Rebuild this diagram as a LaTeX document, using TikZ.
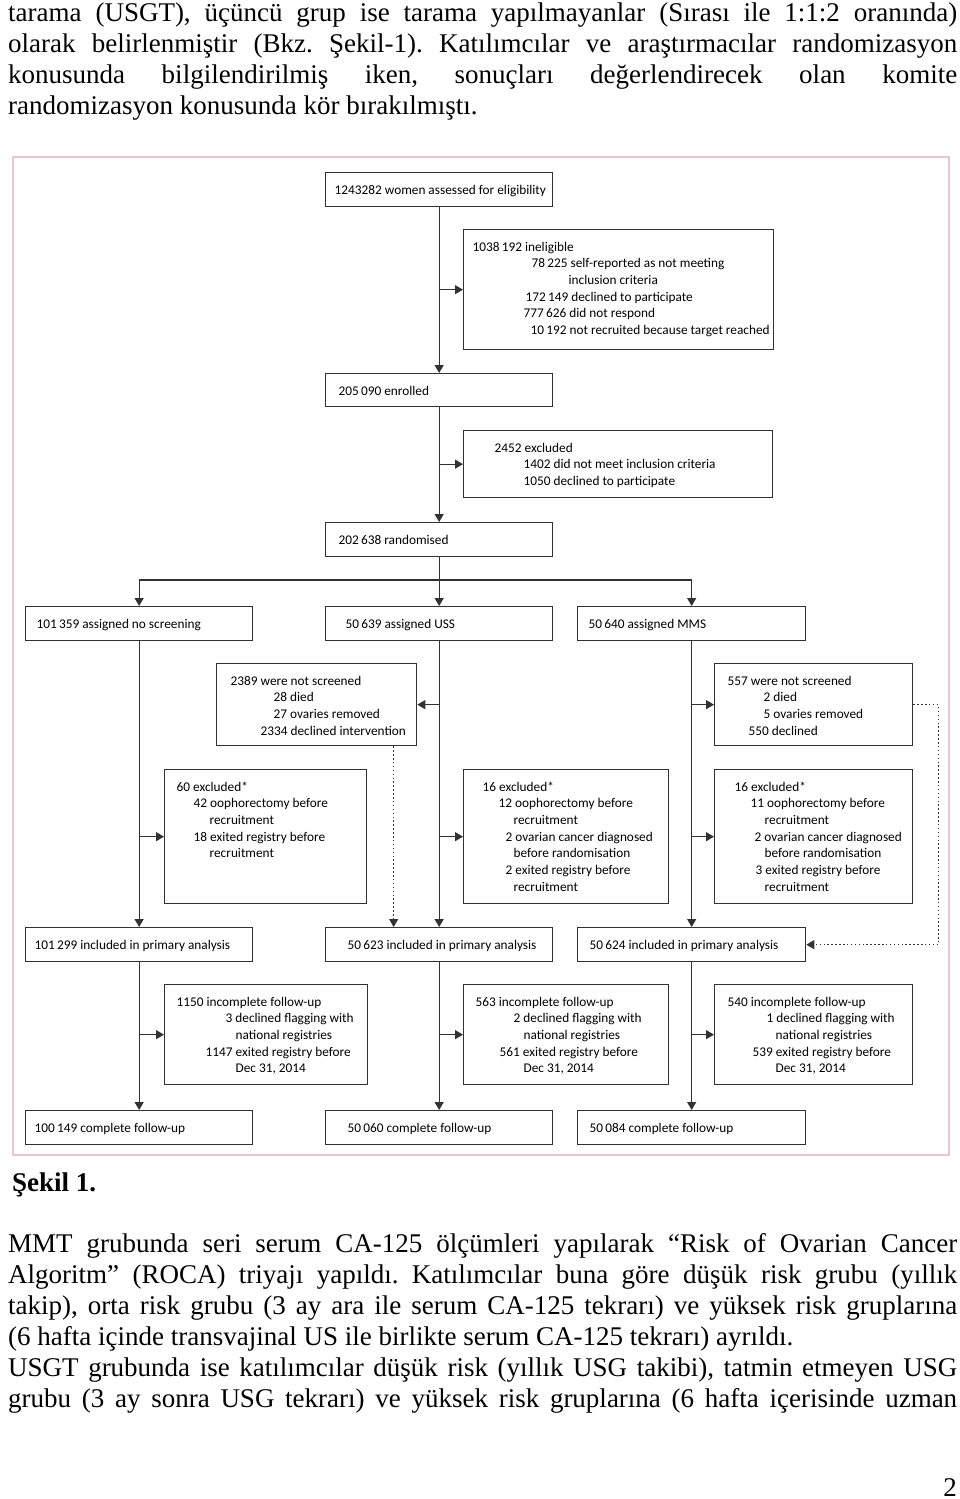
\documentclass[tikz,border=0pt]{standalone}
\usepackage{fontspec}
\setmainfont{Liberation Serif}
\newfontfamily\figfont{Carlito}
\usetikzlibrary{arrows.meta}
\frenchspacing
\definecolor{framepink}{RGB}{232,198,206}
\definecolor{linegray}{RGB}{50,50,50}
\tikzstyle{box} = [draw=linegray, line width=1.3pt, inner sep=0pt, anchor=north west, font=\figfont\fontsize{13.3pt}{16.7pt}\selectfont]
\tikzstyle{line} = [draw=linegray, line width=1.3pt]
\tikzstyle{arr} = [line, -{Triangle[length=8pt,width=9pt]}]
\tikzstyle{dotarr} = [arr, dash pattern=on 1.5pt off 2.4pt]
\tikzstyle{page} = [inner sep=0pt, anchor=base west, font=\fontsize{27pt}{31pt}\selectfont]
\newcommand{\boxtxt}[3]{\parbox[c][#2][t]{#1}{\rule{0pt}{21.5pt}#3}}

\begin{document}
\begin{tikzpicture}[x=1pt, y=-1pt]
			\useasboundingbox (0,0) rectangle (960,1499);
			\node[page] (intro) at (8,21) {\begin{minipage}[t]{949pt}
				\makebox[\linewidth][s]{tarama (USGT), üçüncü grup ise tarama yapılmayanlar (Sırası ile 1:1:2 oranında)}\\
				\makebox[\linewidth][s]{olarak belirlenmiştir (Bkz. Şekil-1). Katılımcılar ve araştırmacılar randomizasyon}\\
				\makebox[\linewidth][s]{konusunda bilgilendirilmiş iken, sonuçları değerlendirecek olan komite}\\
				randomizasyon konusunda kör bırakılmıştı.
			\end{minipage}};
			\draw[framepink, line width=1.8pt] (13,157) rectangle (949,1155);

			\node[box] (elig) at (325,172) {\boxtxt{227pt}{34pt}{\hspace*{9pt}1243282 women assessed for eligibility}};
			\node[box] (inelig) at (463,229) {\boxtxt{310pt}{120pt}{\hspace*{9pt}1038\,192 ineligible\\
				\hspace*{68pt}78\,225 self-reported as not meeting\\\hspace*{105pt}inclusion criteria\\
				\hspace*{62pt}172\,149 declined to participate\\\hspace*{60pt}777\,626 did not respond\\
				\hspace*{67pt}10\,192 not recruited because target reached}};
			\node[box] (enrol) at (325,373) {\boxtxt{227pt}{33pt}{\hspace*{13pt}205\,090 enrolled}};
			\node[box] (excl) at (463,430) {\boxtxt{309pt}{67pt}{\hspace*{31pt}2452 excluded\\
				\hspace*{60pt}1402 did not meet inclusion criteria\\\hspace*{60pt}1050 declined to participate}};
			\node[box] (rand) at (325,522) {\boxtxt{227pt}{34pt}{\hspace*{13pt}202\,638 randomised}};
			\coordinate (split) at (440,580);

			\node[box] (none) at (25,606) {\boxtxt{227pt}{34pt}{\hspace*{11pt}101\,359 assigned no screening}};
			\node[box] (uss) at (325,606) {\boxtxt{227pt}{34pt}{\hspace*{20pt}50\,639 assigned USS}};
			\node[box] (mms) at (577,606) {\boxtxt{228pt}{34pt}{\hspace*{11pt}50\,640 assigned MMS}};

			\node[box] (ussns) at (216,663) {\boxtxt{200pt}{82pt}{\hspace*{14pt}2389 were not screened\\
				\hspace*{57pt}28 died\\\hspace*{57pt}27 ovaries removed\\\hspace*{44pt}2334 declined intervention}};
			\node[box] (mmsns) at (714,663) {\boxtxt{198pt}{82pt}{\hspace*{13pt}557 were not screened\\
				\hspace*{49pt}2 died\\\hspace*{49pt}5 ovaries removed\\\hspace*{34pt}550 declined}};

			\node[box] (noneex) at (164,769) {\boxtxt{202pt}{134pt}{\hspace*{12pt}60 excluded*\\
				\hspace*{29pt}42 oophorectomy before\\\hspace*{45pt}recruitment\\
				\hspace*{29pt}18 exited registry before\\\hspace*{45pt}recruitment}};
			\node[box] (ussex) at (463,769) {\boxtxt{205pt}{134pt}{\hspace*{19pt}16 excluded*\\
				\hspace*{35pt}12 oophorectomy before\\\hspace*{50pt}recruitment\\
				\hspace*{42pt}2 ovarian cancer diagnosed\\\hspace*{50pt}before randomisation\\
				\hspace*{42pt}2 exited registry before\\\hspace*{50pt}recruitment}};
			\node[box] (mmsex) at (714,769) {\boxtxt{198pt}{134pt}{\hspace*{20pt}16 excluded*\\
				\hspace*{36pt}11 oophorectomy before\\\hspace*{50pt}recruitment\\
				\hspace*{40pt}2 ovarian cancer diagnosed\\\hspace*{50pt}before randomisation\\
				\hspace*{41pt}3 exited registry before\\\hspace*{50pt}recruitment}};

			\node[box] (nonein) at (25,927) {\boxtxt{227pt}{34pt}{\hspace*{9pt}101\,299 included in primary analysis}};
			\node[box] (ussin) at (325,927) {\boxtxt{227pt}{34pt}{\hspace*{22pt}50\,623 included in primary analysis}};
			\node[box] (mmsin) at (577,927) {\boxtxt{228pt}{34pt}{\hspace*{12pt}50\,624 included in primary analysis}};

			\node[box] (nonefu) at (164,984) {\boxtxt{203pt}{100pt}{\hspace*{12pt}1150 incomplete follow-up\\
				\hspace*{61pt}3 declined flagging with\\\hspace*{71pt}national registries\\
				\hspace*{41pt}1147 exited registry before\\\hspace*{71pt}Dec 31, 2014}};
			\node[box] (ussfu) at (463,984) {\boxtxt{205pt}{100pt}{\hspace*{12pt}563 incomplete follow-up\\
				\hspace*{50pt}2 declined flagging with\\\hspace*{60pt}national registries\\
				\hspace*{36pt}561 exited registry before\\\hspace*{60pt}Dec 31, 2014}};
			\node[box] (mmsfu) at (714,984) {\boxtxt{198pt}{100pt}{\hspace*{13pt}540 incomplete follow-up\\
				\hspace*{52pt}1 declined flagging with\\\hspace*{61pt}national registries\\
				\hspace*{38pt}539 exited registry before\\\hspace*{61pt}Dec 31, 2014}};

			\node[box] (nonecf) at (25,1110) {\boxtxt{227pt}{34pt}{\hspace*{9pt}100\,149 complete follow-up}};
			\node[box] (usscf) at (325,1110) {\boxtxt{227pt}{34pt}{\hspace*{22pt}50\,060 complete follow-up}};
			\node[box] (mmscf) at (577,1110) {\boxtxt{228pt}{34pt}{\hspace*{12pt}50\,084 complete follow-up}};

			\draw[arr] (elig) -- (enrol);
			\draw[arr] (elig |- inelig) -- (inelig);
			\draw[arr] (enrol) -- (rand);
			\draw[arr] (enrol |- excl) -- (excl);
			\draw[line] (rand) -- (rand |- split);
			\draw[line] (none |- split) -- (mms |- split);
			\draw[arr] (none |- split) -- (none);
			\draw[arr] (uss |- split) -- (uss);
			\draw[arr] (mms |- split) -- (mms);

			\draw[arr] (none) -- (nonein);
			\draw[arr] (none |- noneex) -- (noneex);
			\draw[arr] (uss) -- (ussin);
			\draw[arr] (uss |- ussns) -- (ussns);
			\draw[arr] (uss |- ussex) -- (ussex);
			\draw[dotarr] ([xshift=77pt]ussns.south) -- ([xshift=77pt]ussns.south |- ussin.north);
			\draw[arr] (mms) -- (mmsin);
			\draw[arr] (mms |- mmsns) -- (mmsns);
			\draw[arr] (mms |- mmsex) -- (mmsex);
			\draw[dotarr] (mmsns.east) -- ++(25,0) |- (mmsin.east);

			\draw[arr] (nonein) -- (nonecf);
			\draw[arr] (nonein |- nonefu) -- (nonefu);
			\draw[arr] (ussin) -- (usscf);
			\draw[arr] (ussin |- ussfu) -- (ussfu);
			\draw[arr] (mmsin) -- (mmscf);
			\draw[arr] (mmsin |- mmsfu) -- (mmsfu);

			\node[page, font=\bfseries\fontsize{27pt}{31pt}\selectfont] (caption) at (12,1191) {Şekil 1.};
			\node[page] (body) at (8,1252) {\begin{minipage}[t]{949pt}
				\makebox[\linewidth][s]{MMT grubunda seri serum CA-125 ölçümleri yapılarak “Risk of Ovarian Cancer}\\
				\makebox[\linewidth][s]{Algoritm” (ROCA) triyajı yapıldı. Katılımcılar buna göre düşük risk grubu (yıllık}\\
				\makebox[\linewidth][s]{takip), orta risk grubu (3 ay ara ile serum CA-125 tekrarı) ve yüksek risk gruplarına}\\
				(6 hafta içinde transvajinal US ile birlikte serum CA-125 tekrarı) ayrıldı.\\
				\makebox[\linewidth][s]{USGT grubunda ise katılımcılar düşük risk (yıllık USG takibi), tatmin etmeyen USG}\\
				\makebox[\linewidth][s]{grubu (3 ay sonra USG tekrarı) ve yüksek risk gruplarına (6 hafta içerisinde uzman}
			\end{minipage}};
			\node[page, anchor=base east] (pageno) at (957,1496) {2};
		\end{tikzpicture}
\end{document}
